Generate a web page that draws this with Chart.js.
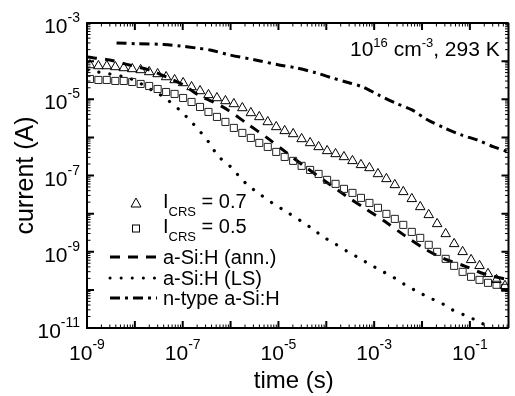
<!DOCTYPE html>
<html>
<head>
<meta charset="utf-8">
<script src="https://cdn.jsdelivr.net/npm/chart.js@4.4.0/dist/chart.umd.min.js"></script>
<style>
  html, body { margin: 0; padding: 0; background: #fff; overflow: hidden; }
  #wrap { width: 515px; height: 396px; }
</style>
</head>
<body>
<div id="wrap"><canvas id="myChart"></canvas></div>
<script>
// measured transients (time in s, current in A)
let tMeas = [1.15e-9, 1.73e-9, 2.59e-9, 3.90e-9, 5.86e-9, 8.81e-9, 1.32e-8, 1.99e-8, 2.99e-8, 4.50e-8,
  6.76e-8, 1.02e-7, 1.53e-7, 2.30e-7, 3.45e-7, 5.19e-7, 7.80e-7, 1.17e-6, 1.76e-6, 2.65e-6,
  3.98e-6, 5.98e-6, 8.99e-6, 1.35e-5, 2.03e-5, 3.05e-5, 4.59e-5, 6.90e-5, 1.04e-4, 1.56e-4,
  2.34e-4, 3.52e-4, 5.30e-4, 7.96e-4, 1.20e-3, 1.80e-3, 2.70e-3, 4.06e-3, 6.11e-3, 9.18e-3,
  1.38e-2, 2.07e-2, 3.12e-2, 4.69e-2, 7.05e-2, 0.106, 0.159, 0.239, 0.360, 0.541];
let crs07 = [7.92e-5, 7.46e-5, 7.46e-5, 7.03e-5, 6.62e-5, 6.24e-5, 5.87e-5, 5.20e-5, 4.61e-5, 3.84e-5,
  3.21e-5, 2.68e-5, 2.10e-5, 1.65e-5, 1.30e-5, 1.08e-5, 9.02e-6, 7.53e-6, 5.91e-6, 4.38e-6,
  3.44e-6, 2.54e-6, 1.88e-6, 1.48e-6, 1.23e-6, 9.10e-7, 7.16e-7, 5.62e-7, 4.42e-7, 3.68e-7,
  3.07e-7, 2.42e-7, 1.90e-7, 1.58e-7, 1.10e-7, 8.15e-8, 5.67e-8, 3.72e-8, 2.44e-8, 1.50e-8,
  9.28e-9, 5.38e-9, 2.94e-9, 1.61e-9, 9.94e-10, 6.13e-10, 4.27e-10, 2.64e-10, 1.84e-10, 1.28e-10];
let crs05 = [3.40e-5, 3.21e-5, 3.21e-5, 3.02e-5, 3.02e-5, 2.84e-5, 2.52e-5, 2.23e-5, 1.86e-5, 1.55e-5,
  1.38e-5, 1.08e-5, 8.49e-6, 6.28e-6, 4.65e-6, 3.44e-6, 2.54e-6, 1.77e-6, 1.31e-6, 9.68e-7,
  7.16e-7, 5.62e-7, 4.16e-7, 3.07e-7, 2.42e-7, 1.79e-7, 1.40e-7, 1.10e-7, 7.67e-8, 6.03e-8,
  4.46e-8, 3.50e-8, 2.59e-8, 1.91e-8, 1.42e-8, 9.85e-9, 7.28e-9, 5.07e-9, 3.32e-9, 2.31e-9,
  1.52e-9, 9.94e-10, 6.51e-10, 4.27e-10, 2.97e-10, 2.20e-10, 1.83e-10, 1.53e-10, 1.36e-10, 1.13e-10];

// simulated curves
let annT = [1e-9, 2.97e-9, 7.67e-9, 1.98e-8, 5.10e-8, 1.04e-7, 2.11e-7, 4.30e-7, 8.76e-7, 2.26e-6,
  5.82e-6, 1.50e-5, 3.87e-5, 1.0e-4, 2.58e-4, 6.65e-4, 1.72e-3, 4.43e-3, 1.14e-2, 2.94e-2, 7.60e-2, 0.196, 0.641];
let annI = [1.28e-4, 1.07e-4, 7.92e-5, 5.87e-5, 3.61e-5, 2.37e-5, 1.30e-5, 8.49e-6, 5.25e-6, 2.25e-6,
  9.68e-7, 3.91e-7, 1.58e-7, 6.79e-8, 2.92e-8, 1.33e-8, 6.08e-9, 2.61e-9, 1.19e-9, 6.51e-10, 4.27e-10, 2.64e-10, 1.83e-10];
let lsT = [1.05e-9, 1.68e-9, 2.97e-9, 6.05e-9, 1.07e-8, 1.72e-8, 3.18e-8, 5.10e-8, 9.02e-8, 1.52e-7,
  2.44e-7, 3.73e-7, 5.45e-7, 1.01e-6, 1.55e-6, 2.26e-6, 3.99e-6, 7.38e-6, 1.37e-5, 2.92e-5,
  5.15e-5, 8.67e-5, 1.53e-4, 2.84e-4, 4.78e-4, 8.43e-4, 1.56e-3, 2.63e-3, 4.43e-3, 8.20e-3,
  1.45e-2, 2.68e-2, 4.30e-2, 8.36e-2, 0.141, 0.248, 0.399];
let lsI = [5.87e-5, 5.20e-5, 4.61e-5, 3.84e-5, 3.02e-5, 2.10e-5, 1.38e-5, 9.02e-6, 4.93e-6, 2.54e-6,
  1.31e-6, 6.73e-7, 3.26e-7, 1.68e-7, 9.18e-8, 5.67e-8, 3.30e-8, 1.91e-8, 1.18e-8, 6.46e-9,
  3.98e-9, 2.46e-9, 1.61e-9, 9.94e-10, 6.91e-10, 4.54e-10, 2.97e-10, 2.07e-10, 1.36e-10, 8.89e-11,
  6.19e-11, 4.31e-11, 3.00e-11, 2.09e-11, 1.55e-11, 1.07e-11, 7.9e-12];
let ntypeT = [4.14e-9, 1.12e-8, 4.03e-8, 9.02e-8, 1.92e-7, 3.73e-7, 9.64e-7, 3.30e-6, 1.03e-5, 2.41e-5,
  6.23e-5, 1.15e-4, 2.58e-4, 5.77e-4, 1.23e-3, 2.75e-3, 6.17e-3, 1.32e-2, 2.94e-2, 6.59e-2, 0.141, 0.315, 0.641];
let ntypeI = [2.99e-4, 2.86e-4, 2.74e-4, 2.49e-4, 2.21e-4, 1.96e-4, 1.45e-4, 1.07e-4, 7.92e-5, 6.61e-5,
  4.89e-5, 3.84e-5, 2.84e-5, 2.10e-5, 1.30e-5, 8.00e-6, 5.25e-6, 2.86e-6, 1.77e-6, 1.16e-6, 8.57e-7, 5.62e-7, 4.16e-7];

// axis range and labelled decades
let xMin = 1e-9, xMax = 0.641;
let yMin = 1e-11, yMax = 1e-3;
let xLabelExp = [-9, -7, -5, -3, -1];
let yLabelExp = [-3, -5, -7, -9, -11];

const FONT = '"Liberation Sans", Arial, sans-serif';
const DASHED = [10, 8];
const DOTTED = [0.1, 11];
const DASHDOT = [10, 5, 3, 5];

function pts(xs, ys) {
  return xs.map((x, i) => ({x: x, y: ys[i]}));
}

function supText(ctx, base, sup, x, y, size, supSize, rise) {
  ctx.font = size + 'px ' + FONT;
  ctx.fillText(base, x, y);
  let w = ctx.measureText(base).width;
  ctx.font = supSize + 'px ' + FONT;
  ctx.fillText(sup, x + w, y - rise);
  return w + ctx.measureText(sup).width;
}

function supWidth(ctx, base, sup, size, supSize) {
  ctx.font = size + 'px ' + FONT;
  let w = ctx.measureText(base).width;
  ctx.font = supSize + 'px ' + FONT;
  return w + ctx.measureText(sup).width;
}

const framePlugin = {
  id: 'framePlugin',
  afterDatasetsDraw(chart) {
    const ctx = chart.ctx;
    const a = chart.chartArea;
    const xs = chart.scales.x, ys = chart.scales.y;
    ctx.save();
    ctx.strokeStyle = '#000';
    ctx.fillStyle = '#000';
    ctx.setLineDash([]);
    ctx.lineCap = 'butt';

    // frame
    ctx.lineWidth = 2;
    ctx.beginPath();
    ctx.moveTo(a.left, a.top); ctx.lineTo(a.right, a.top);
    ctx.moveTo(a.left, a.top - 1); ctx.lineTo(a.left, a.bottom + 1);
    ctx.moveTo(a.left, a.bottom); ctx.lineTo(a.right, a.bottom);
    ctx.moveTo(a.right, a.top); ctx.lineTo(a.right, a.bottom);
    ctx.stroke();

    // inward ticks
    for (let d = -12; d <= 1; d++) {
      for (let m = 1; m <= 9; m++) {
        let v = m * Math.pow(10, d);
        let major = m === 1;
        let len = major ? 7 : 3.5;
        ctx.lineWidth = major ? 2 : 1;
        if (v >= xMin * 0.999 && v <= xMax) {
          let px = xs.getPixelForValue(v);
          ctx.beginPath();
          ctx.moveTo(px, a.bottom); ctx.lineTo(px, a.bottom - len);
          ctx.moveTo(px, a.top); ctx.lineTo(px, a.top + len);
          ctx.stroke();
        }
        if (v >= yMin * 0.999 && v <= yMax * 1.001) {
          let py = ys.getPixelForValue(v);
          ctx.beginPath();
          ctx.moveTo(a.left, py); ctx.lineTo(a.left + len, py);
          ctx.moveTo(a.right, py); ctx.lineTo(a.right - len, py);
          ctx.stroke();
        }
      }
    }

    // tick labels
    ctx.textAlign = 'left';
    ctx.textBaseline = 'alphabetic';
    xLabelExp.forEach(e => {
      let px = xs.getPixelForValue(Math.pow(10, e));
      let w = supWidth(ctx, '10', String(e), 21, 14);
      supText(ctx, '10', String(e), px - w / 2, a.bottom + 32, 21, 14, 11);
    });
    yLabelExp.forEach(e => {
      let py = ys.getPixelForValue(Math.pow(10, e));
      let w = supWidth(ctx, '10', String(e), 21, 14);
      supText(ctx, '10', String(e), a.left - 7 - w, py + 10, 21, 14, 11);
    });

    // axis titles
    ctx.font = '24px ' + FONT;
    ctx.textAlign = 'center';
    ctx.fillText('time (s)', (a.left + a.right) / 2 - 4, a.bottom + 60);
    ctx.save();
    ctx.font = '25px ' + FONT;
    ctx.translate(33, (a.top + a.bottom) / 2);
    ctx.rotate(-Math.PI / 2);
    ctx.fillText('current (A)', 0, 0);
    ctx.restore();

    // annotation
    ctx.textAlign = 'left';
    let x0 = 350;
    x0 += supText(ctx, '10', '16', x0, 56, 21, 13, 9);
    x0 += supText(ctx, ' cm', '-3', x0, 56, 21, 13, 9);
    ctx.font = '21px ' + FONT;
    ctx.fillText(', 293 K', x0, 56);

    // legend
    let symX = 136, lineX0 = 110, lineX1 = 157, textX = 163;
    ctx.lineWidth = 1;
    // triangle
    ctx.beginPath();
    ctx.moveTo(symX, 198); ctx.lineTo(symX + 5, 207); ctx.lineTo(symX - 5, 207); ctx.closePath();
    ctx.stroke();
    // square
    ctx.strokeRect(symX - 3.5, 225, 7, 7);
    let crsRows = [[208, '0.7'], [233, '0.5']];
    crsRows.forEach(r => {
      ctx.font = '20px ' + FONT;
      ctx.fillText('I', textX, r[0]);
      let w = ctx.measureText('I').width;
      ctx.font = '13px ' + FONT;
      ctx.fillText('CRS', textX + w, r[0] + 8);
      let w2 = ctx.measureText('CRS').width;
      ctx.font = '20px ' + FONT;
      ctx.fillText(' = ' + r[1], textX + w + w2, r[0]);
    });
    let lineRows = [[257, DASHED, 'a-Si:H (ann.)', 'butt', 3],
                    [278, DOTTED, 'a-Si:H (LS)', 'round', 3],
                    [298, DASHDOT, 'n-type a-Si:H', 'butt', 3]];
    lineRows.forEach(r => {
      ctx.save();
      ctx.lineWidth = r[4];
      ctx.lineCap = r[3];
      ctx.setLineDash(r[1]);
      ctx.beginPath();
      ctx.moveTo(lineX0, r[0]); ctx.lineTo(lineX1, r[0]);
      ctx.stroke();
      ctx.restore();
      ctx.font = '20px ' + FONT;
      ctx.fillText(r[2], textX, r[0] + 7);
    });
    ctx.restore();
  }
};

let ctx = document.getElementById('myChart').getContext('2d');

let myChart = new Chart(ctx, {
  type: 'scatter',
  data: {
    datasets: [
      {
        label: 'I_CRS = 0.7',
        data: pts(tMeas, crs07),
        pointStyle: 'triangle',
        pointRadius: 5.5,
        borderColor: '#000',
        borderWidth: 1,
        backgroundColor: 'rgba(0,0,0,0)',
        showLine: false,
        order: 1
      },
      {
        label: 'I_CRS = 0.5',
        data: pts(tMeas, crs05),
        pointStyle: 'rect',
        pointRadius: 5,
        borderColor: '#222',
        borderWidth: 1,
        backgroundColor: 'rgba(0,0,0,0)',
        showLine: false,
        order: 2
      },
      {
        label: 'a-Si:H (ann.)',
        data: pts(annT, annI),
        showLine: true,
        pointRadius: 0,
        borderColor: '#000',
        borderWidth: 3,
        borderDash: DASHED,
        tension: 0.3,
        order: 3
      },
      {
        label: 'a-Si:H (LS)',
        data: pts(lsT, lsI),
        showLine: true,
        pointRadius: 0,
        borderColor: '#000',
        borderWidth: 3.2,
        borderDash: DOTTED,
        borderCapStyle: 'round',
        tension: 0.3,
        order: 4
      },
      {
        label: 'n-type a-Si:H',
        data: pts(ntypeT, ntypeI),
        showLine: true,
        pointRadius: 0,
        borderColor: '#000',
        borderWidth: 3,
        borderDash: DASHDOT,
        tension: 0.3,
        order: 5
      }
    ]
  },
  options: {
    responsive: true,
    maintainAspectRatio: false,
    animation: false,
    layout: {
      padding: { left: 87, top: 23, right: 0, bottom: 68 }
    },
    scales: {
      x: { type: 'logarithmic', min: xMin, max: xMax, display: false },
      y: { type: 'logarithmic', min: yMin, max: yMax, display: false }
    },
    plugins: {
      legend: { display: false },
      tooltip: { enabled: false }
    }
  },
  plugins: [framePlugin]
});
</script>
</body>
</html>
